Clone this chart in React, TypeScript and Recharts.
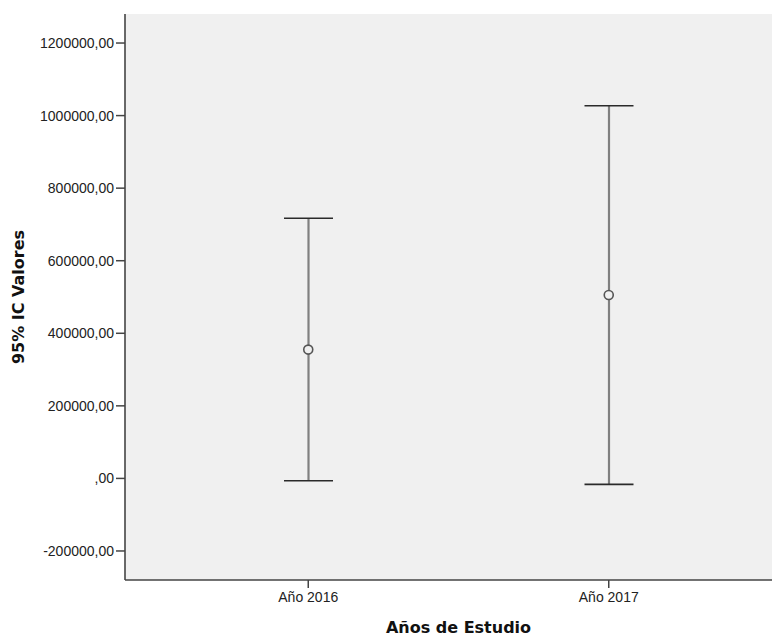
import {
  Bar,
  CartesianGrid,
  ComposedChart,
  Line,
  XAxis,
  YAxis,
} from "recharts";

const categories = ["Año 2016", "Año 2017"];
const means = [355000, 505500];
const lower = [-6300, -16500];
const upper = [717000, 1027000];
const yTicks = [-200000, 0, 200000, 400000, 600000, 800000, 1000000, 1200000];

const data = categories.map((c, i) => ({
  cat: c,
  mean: means[i],
  range: [lower[i], upper[i]],
}));

const tickFont = { fontFamily: "'Liberation Sans', Arial, sans-serif", fontSize: 14, fill: "#222" };
const titleFont = "'DejaVu Sans', Verdana, sans-serif";

const fmt = (v: number) => (v === 0 ? ",00" : `${v},00`);

function Whisker(props: any) {
  const { x, y, width, height } = props;
  const cx = x + width / 2;
  const top = Math.min(y, y + height);
  const bottom = Math.max(y, y + height);
  return (
    <g>
      <line x1={cx} x2={cx} y1={top} y2={bottom} stroke="#808080" strokeWidth={2.2} />
      <line x1={x} x2={x + width} y1={top} y2={top} stroke="#2a2a2a" strokeWidth={1.6} />
      <line x1={x} x2={x + width} y1={bottom} y2={bottom} stroke="#2a2a2a" strokeWidth={1.6} />
    </g>
  );
}

export default function App() {
  return (
    <div style={{ width: 800, height: 629 }}>
      <style>{"html{overflow:hidden}"}</style>
      <ComposedChart
        width={800}
        height={629}
        data={data}
        margin={{ top: 6, right: 16, bottom: 0, left: 0 }}
      >
        <CartesianGrid fill="#f0f0f0" horizontal={false} vertical={false} />
        <XAxis
          dataKey="cat"
          height={57}
          padding={{ left: 33, right: 33 }}
          tick={tickFont}
          tickSize={8}
          tickMargin={4}
          tickLine={{ stroke: "#444", strokeWidth: 1.5 }}
          axisLine={{ stroke: "#444", strokeWidth: 1.6 }}
          label={{
            content: (p: any) => {
              const vb = p.viewBox;
              return (
                <text
                  x={vb.x + vb.width / 2}
                  y={625}
                  textAnchor="middle"
                  fontFamily={titleFont}
                  fontWeight="bold"
                  fontSize={16}
                  fill="#111"
                >
                  Años de Estudio
                </text>
              );
            },
          }}
        />
        <XAxis
          xAxisId="top"
          dataKey="cat"
          orientation="top"
          height={0}
          tick={false}
          tickLine={false}
          axisLine={{ stroke: "#858585", strokeWidth: 2.4 }}
        />
        <YAxis
          domain={[-280000, 1280000]}
          ticks={yTicks}
          width={117}
          allowDataOverflow
          tick={tickFont}
          tickFormatter={fmt}
          tickSize={9}
          tickMargin={2}
          tickLine={{ stroke: "#444", strokeWidth: 1.5 }}
          axisLine={{ stroke: "#444", strokeWidth: 1.6 }}
          label={{
            content: (p: any) => {
              const vb = p.viewBox;
              const cy = vb.y + vb.height / 2;
              return (
                <text
                  x={10}
                  y={cy}
                  transform={`rotate(-90 10 ${cy})`}
                  textAnchor="middle"
                  dominantBaseline="central"
                  fontFamily={titleFont}
                  fontWeight="bold"
                  fontSize={16}
                  fill="#111"
                >
                  95% IC Valores
                </text>
              );
            },
          }}
        />
        <Bar dataKey="range" barSize={49} shape={<Whisker />} isAnimationActive={false} />
        <Line
          dataKey="mean"
          stroke="none"
          dot={{ r: 4.5, stroke: "#555", strokeWidth: 1.6, fill: "#f0f0f0" }}
          activeDot={false}
          isAnimationActive={false}
        />
      </ComposedChart>
    </div>
  );
}
